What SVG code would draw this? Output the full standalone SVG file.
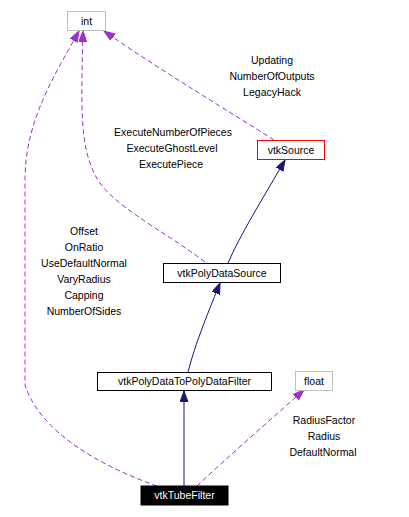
<svg xmlns="http://www.w3.org/2000/svg" width="409" height="517" viewBox="0 0 409 517">
<style>
text{font-family:"Liberation Sans",Arial,sans-serif;font-size:10.5px;fill:#000;text-anchor:middle}
.node rect{fill:#fff;stroke:#000;stroke-width:1}
.ext rect{stroke:#bfbfbf}
.dep{fill:none;stroke:#9a32cd;stroke-width:1;stroke-dasharray:5,3}
.inh{fill:none;stroke:#191970;stroke-width:1}
</style>
<defs>
<marker id="ap" markerUnits="userSpaceOnUse" markerWidth="12" markerHeight="10" refX="11" refY="4" orient="auto"><path d="M0,0 L11,4 L0,8 Z" fill="#9a32cd" stroke="#9a32cd"/></marker>
<marker id="an" markerUnits="userSpaceOnUse" markerWidth="12" markerHeight="10" refX="11" refY="4" orient="auto"><path d="M0,0 L11,4 L0,8 Z" fill="#191970" stroke="#191970"/></marker>
</defs>
<g id="connectors">
<path class="dep" d="M274,140 C 230,112 160,70 104,31" marker-end="url(#ap)"/>
<path class="dep" d="M205,262 C 160,228 110,205 95,175 C 80,145 81,110 83,31" marker-end="url(#ap)"/>
<path class="dep" d="M157,486 C 100,466 40,432 25,385 L 25,180 C 25,120 55,75 79,31" marker-end="url(#ap)"/>
<path class="dep" d="M197,486 C 230,455 270,420 304,390" marker-end="url(#ap)"/>
<path class="inh" d="M228,263 C 240,235 262,200 285,160" marker-end="url(#an)"/>
<path class="inh" d="M188,372 C 195,345 205,320 220,283" marker-end="url(#an)"/>
<path class="inh" d="M184,486 L184,391" marker-end="url(#an)"/>
</g>
<g id="labels">
<text x="272" y="64">Updating</text>
<text x="272" y="80">NumberOfOutputs</text>
<text x="272" y="96">LegacyHack</text>
<text x="173" y="136">ExecuteNumberOfPieces</text>
<text x="172" y="152">ExecuteGhostLevel</text>
<text x="171" y="168">ExecutePiece</text>
<text x="84" y="235">Offset</text>
<text x="84" y="251">OnRatio</text>
<text x="84" y="267">UseDefaultNormal</text>
<text x="84" y="283">VaryRadius</text>
<text x="84" y="299">Capping</text>
<text x="84" y="315">NumberOfSides</text>
<text x="324" y="424">RadiusFactor</text>
<text x="324" y="440">Radius</text>
<text x="323" y="456">DefaultNormal</text>
</g>
<g id="int" class="node ext"><rect x="67.5" y="11.5" width="38" height="19"/><text x="86.5" y="24.5">int</text></g>
<g id="vtkSource" class="node"><rect x="257.5" y="140.5" width="67" height="19" style="stroke:#ff0000"/><text x="291" y="153.5">vtkSource</text></g>
<g id="vtkPolyDataSource" class="node"><rect x="163.5" y="263.5" width="117" height="19"/><text x="222" y="276.5">vtkPolyDataSource</text></g>
<g id="vtkPolyDataToPolyDataFilter" class="node"><rect x="97.5" y="372.5" width="174" height="18"/><text x="184.5" y="385">vtkPolyDataToPolyDataFilter</text></g>
<g id="float" class="node ext"><rect x="295.5" y="371.5" width="37" height="19"/><text x="314" y="384.5">float</text></g>
<g id="vtkTubeFilter" class="node"><rect x="141" y="486" width="87" height="19" style="fill:#000;stroke:#000"/><text x="184.5" y="499" style="fill:#fff">vtkTubeFilter</text></g>
</svg>
